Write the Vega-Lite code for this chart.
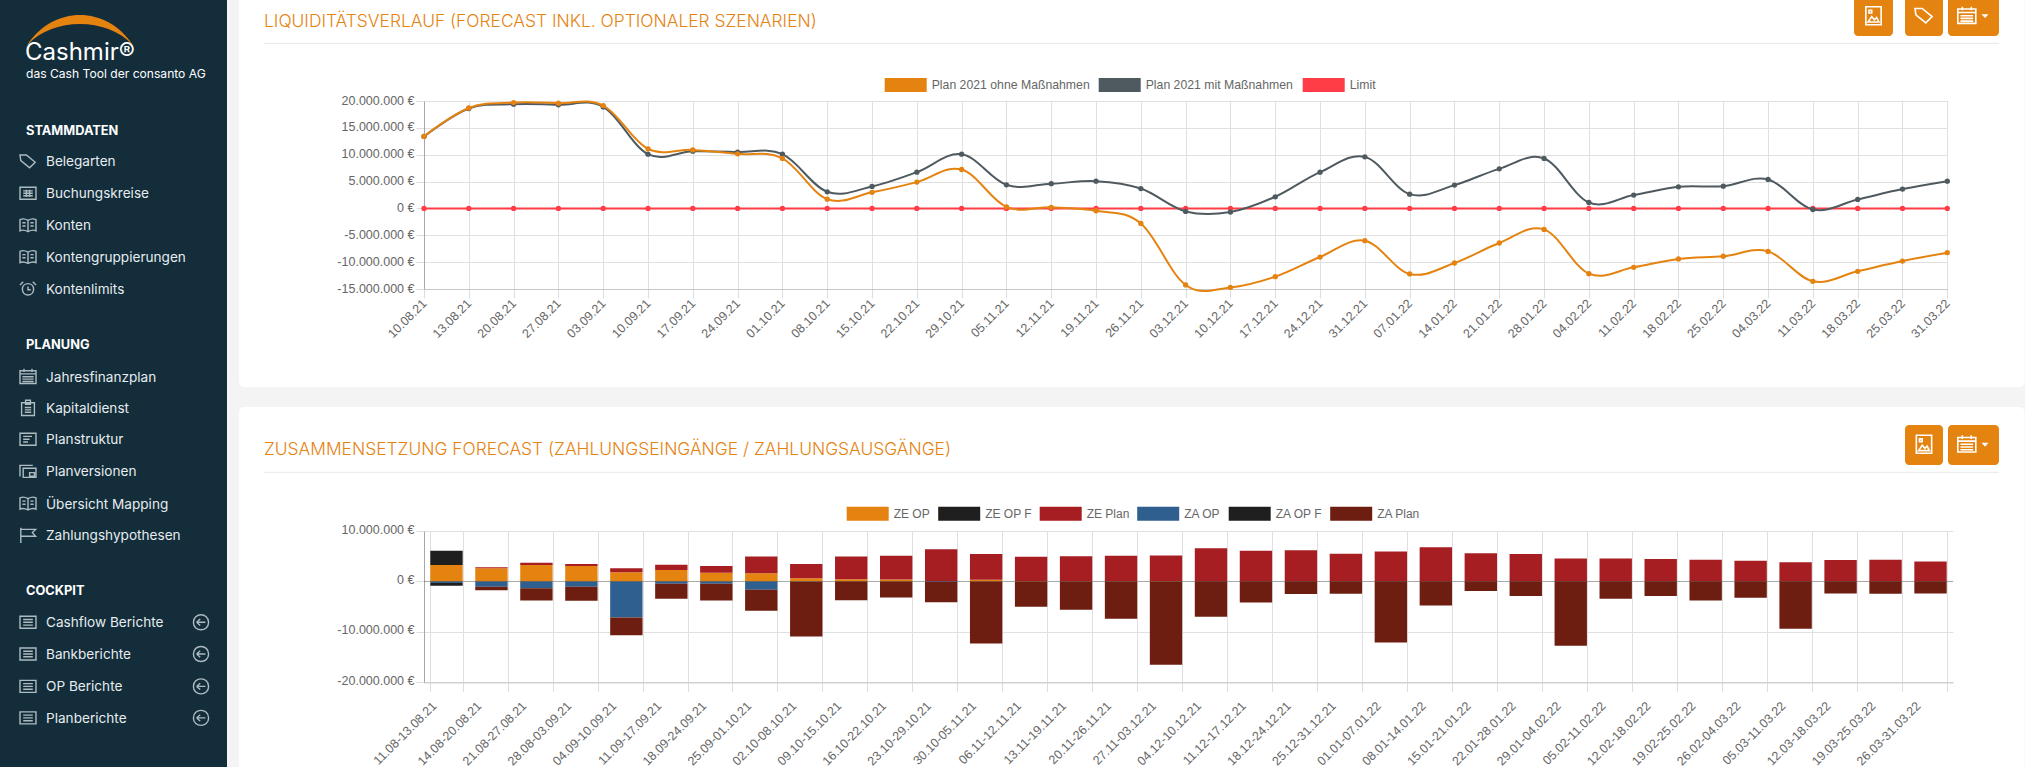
{"$schema":"https://vega.github.io/schema/vega-lite/v6.json","padding":{"left":-1,"top":-1,"right":0,"bottom":0},"autosize":{"type":"pad"},"background":"#f4f4f4","bounds":"flush","spacing":0,"align":"each","columns":2,
"resolve":{"scale":{"color":"independent","shape":"independent"},"legend":{"color":"independent"}},
"config":{"view":{"stroke":null},"font":"Liberation Sans"},
"datasets":{
"chrome":[
{"art":"seite","x":0,"x2":227,"y":0,"y2":767},
{"art":"karte1","x":239,"x2":2024.5,"y":0,"y2":387},
{"art":"karte2","x":239,"x2":2024.5,"y":407,"y2":767},
{"art":"bogen","x":80,"y":25},
{"art":"logo","x":25,"y":52,"text":"Cashmir®"},
{"art":"sub","x":26,"y":73,"text":"das Cash Tool der consanto AG"},
{"art":"kopf","x":26,"y":129.6,"text":"STAMMDATEN"},
{"art":"item","x":46,"ix":28,"y":161.4,"text":"Belegarten","icon":"tag"},
{"art":"item","x":46,"ix":28,"y":193.3,"text":"Buchungskreise","icon":"grid"},
{"art":"item","x":46,"ix":28,"y":225.2,"text":"Konten","icon":"book"},
{"art":"item","x":46,"ix":28,"y":257,"text":"Kontengruppierungen","icon":"book"},
{"art":"item","x":46,"ix":28,"y":288.9,"text":"Kontenlimits","icon":"alarm"},
{"art":"kopf","x":26,"y":344,"text":"PLANUNG"},
{"art":"item","x":46,"ix":28,"y":376.7,"text":"Jahresfinanzplan","icon":"cal"},
{"art":"item","x":46,"ix":28,"y":408.3,"text":"Kapitaldienst","icon":"clip"},
{"art":"item","x":46,"ix":28,"y":439.2,"text":"Planstruktur","icon":"doc"},
{"art":"item","x":46,"ix":28,"y":471,"text":"Planversionen","icon":"copy"},
{"art":"item","x":46,"ix":28,"y":503.5,"text":"Übersicht Mapping","icon":"book"},
{"art":"item","x":46,"ix":28,"y":535,"text":"Zahlungshypothesen","icon":"flag"},
{"art":"kopf","x":26,"y":590,"text":"COCKPIT"},
{"art":"item","x":46,"ix":28,"y":622.3,"text":"Cashflow Berichte","icon":"list"},
{"art":"item","x":46,"ix":28,"y":654,"text":"Bankberichte","icon":"list"},
{"art":"item","x":46,"ix":28,"y":686.4,"text":"OP Berichte","icon":"list"},
{"art":"item","x":46,"ix":28,"y":717.9,"text":"Planberichte","icon":"list"},
{"art":"pfeil","ix":201,"y":622.3,"icon":"back"},
{"art":"pfeil","ix":201,"y":654,"icon":"back"},
{"art":"pfeil","ix":201,"y":686.4,"icon":"back"},
{"art":"pfeil","ix":201,"y":717.9,"icon":"back"},
{"art":"titel","x":264,"y":21,"text":"LIQUIDITÄTSVERLAUF (FORECAST INKL. OPTIONALER SZENARIEN)"},
{"art":"linie","x":264,"x2":1999,"y":43.3},
{"art":"knopf1","x":1854,"x2":1893,"y":0,"y2":36},
{"art":"knopf1","x":1905,"x2":1943,"y":0,"y2":36},
{"art":"knopf1","x":1948,"x2":1999,"y":0,"y2":36},
{"art":"sym","ix":1873.5,"y":15.7,"icon":"bild"},
{"art":"sym","ix":1924,"y":15.7,"icon":"tag"},
{"art":"sym","ix":1966.8,"y":15.7,"icon":"cal"},
{"art":"caret","x":1985,"y":16},
{"art":"titel","x":264,"y":448.6,"text":"ZUSAMMENSETZUNG FORECAST (ZAHLUNGSEINGÄNGE / ZAHLUNGSAUSGÄNGE)"},
{"art":"linie","x":264,"x2":1999,"y":472.3},
{"art":"knopf2","x":1905,"x2":1943,"y":425,"y2":465},
{"art":"knopf2","x":1948,"x2":1999,"y":425,"y2":465},
{"art":"sym","ix":1924,"y":444.3,"icon":"bild"},
{"art":"sym","ix":1966.8,"y":444.3,"icon":"cal"},
{"art":"caret","x":1985,"y":444.6}
],
"liq":[
{"d":"10.08.21","O":13400000,"G":13400000,"Limit":0},{"d":"13.08.21","O":18700000,"G":18600000,"Limit":0},{"d":"20.08.21","O":19700000,"G":19400000,"Limit":0},{"d":"27.08.21","O":19600000,"G":19300000,"Limit":0},{"d":"03.09.21","O":19150000,"G":18900000,"Limit":0},{"d":"10.09.21","O":11100000,"G":10100000,"Limit":0},{"d":"17.09.21","O":10900000,"G":10650000,"Limit":0},{"d":"24.09.21","O":10160000,"G":10500000,"Limit":0},{"d":"01.10.21","O":9300000,"G":10100000,"Limit":0},{"d":"08.10.21","O":1730000,"G":3100000,"Limit":0},{"d":"15.10.21","O":3000000,"G":4100000,"Limit":0},{"d":"22.10.21","O":4900000,"G":6750000,"Limit":0},{"d":"29.10.21","O":7250000,"G":10100000,"Limit":0},{"d":"05.11.21","O":300000,"G":4400000,"Limit":0},{"d":"12.11.21","O":200000,"G":4600000,"Limit":0},{"d":"19.11.21","O":-430000,"G":5080000,"Limit":0},{"d":"26.11.21","O":-2800000,"G":3700000,"Limit":0},{"d":"03.12.21","O":-14250000,"G":-560000,"Limit":0},{"d":"10.12.21","O":-14700000,"G":-680000,"Limit":0},{"d":"17.12.21","O":-12700000,"G":2170000,"Limit":0},{"d":"24.12.21","O":-9050000,"G":6750000,"Limit":0},{"d":"31.12.21","O":-6000000,"G":9600000,"Limit":0},{"d":"07.01.22","O":-12200000,"G":2660000,"Limit":0},{"d":"14.01.22","O":-10160000,"G":4340000,"Limit":0},{"d":"21.01.22","O":-6440000,"G":7370000,"Limit":0},{"d":"28.01.22","O":-3900000,"G":9300000,"Limit":0},{"d":"04.02.22","O":-12140000,"G":1100000,"Limit":0},{"d":"11.02.22","O":-10970000,"G":2480000,"Limit":0},{"d":"18.02.22","O":-9400000,"G":4030000,"Limit":0},{"d":"25.02.22","O":-8900000,"G":4150000,"Limit":0},{"d":"04.03.22","O":-8000000,"G":5400000,"Limit":0},{"d":"11.03.22","O":-13570000,"G":-200000,"Limit":0},{"d":"18.03.22","O":-11700000,"G":1670000,"Limit":0},{"d":"25.03.22","O":-9800000,"G":3600000,"Limit":0},{"d":"31.03.22","O":-8240000,"G":5080000,"Limit":0}
]
},
"concat":[
{"width":423.3,"height":101,"data":{"name":"chrome"},
"encoding":{"x":{"field":"x","type":"quantitative","scale":{"domain":[0,2033],"range":[0,2033],"nice":false,"zero":false},"axis":null},"y":{"field":"y","type":"quantitative","scale":{"domain":[0,767],"range":[0,767],"nice":false,"zero":false},"axis":null}},
"layer":[
{"transform":[{"filter":"datum.art=='seite'"}],"mark":{"type":"rect","color":"#132d3b"},"encoding":{"x2":{"field":"x2"},"y2":{"field":"y2"}}},
{"transform":[{"filter":"datum.art=='karte1'"}],"mark":{"type":"rect","color":"#ffffff","cornerRadiusBottomLeft":5,"cornerRadiusBottomRight":5},"encoding":{"x2":{"field":"x2"},"y2":{"field":"y2"}}},
{"transform":[{"filter":"datum.art=='karte2'"}],"mark":{"type":"rect","color":"#ffffff","cornerRadiusTopLeft":5,"cornerRadiusTopRight":5},"encoding":{"x2":{"field":"x2"},"y2":{"field":"y2"}}},
{"transform":[{"filter":"datum.art=='linie'"}],"mark":{"type":"rule","color":"#e8e8e8","strokeWidth":1},"encoding":{"x2":{"field":"x2"}}},
{"transform":[{"filter":"datum.art=='knopf1'"}],"mark":{"type":"rect","color":"#e58310","cornerRadiusBottomLeft":4,"cornerRadiusBottomRight":4},"encoding":{"x2":{"field":"x2"},"y2":{"field":"y2"}}},
{"transform":[{"filter":"datum.art=='knopf2'"}],"mark":{"type":"rect","color":"#e58310","cornerRadius":4},"encoding":{"x2":{"field":"x2"},"y2":{"field":"y2"}}},
{"transform":[{"filter":"datum.art=='titel'"}],"mark":{"type":"text","align":"left","baseline":"middle","dy":1,"font":"Inter","fontWeight":300,"fontSize":17.4,"color":"#e58310"},"encoding":{"text":{"field":"text"}}},
{"transform":[{"filter":"datum.art=='bogen'"}],"mark":{"type":"point","filled":true,"opacity":1,"size":11236,"color":"#e58310","shape":"M-1,0.38C-0.5,-0.38 0.5,-0.38 1,0.38C0.5,-0.15 -0.5,-0.15 -1,0.38Z"}},
{"transform":[{"filter":"datum.art=='caret'"}],"mark":{"type":"point","filled":true,"opacity":1,"size":49,"color":"#ffffff","shape":"M-1,-0.5H1L0,0.6Z"}},
{"transform":[{"filter":"datum.art=='logo'"}],"mark":{"type":"text","align":"left","baseline":"middle","dy":1,"font":"Inter","fontSize":24,"color":"#ffffff"},"encoding":{"text":{"field":"text"}}},
{"transform":[{"filter":"datum.art=='sub'"}],"mark":{"type":"text","align":"left","baseline":"middle","dy":1,"font":"Inter","fontSize":12.1,"color":"#ffffff"},"encoding":{"text":{"field":"text"}}},
{"transform":[{"filter":"datum.art=='kopf'"}],"mark":{"type":"text","align":"left","baseline":"middle","dy":1,"font":"Inter","fontWeight":700,"fontSize":12.8,"color":"#ffffff"},"encoding":{"text":{"field":"text"}}},
{"transform":[{"filter":"datum.art=='item'"}],"mark":{"type":"text","align":"left","baseline":"middle","dy":1,"font":"Inter","fontSize":13.6,"color":"#e6ecef"},"encoding":{"text":{"field":"text"}}},
{"transform":[{"filter":"datum.art=='item'||datum.art=='pfeil'"}],"mark":{"type":"point","filled":false,"opacity":1,"size":256,"stroke":"#aebbc1","strokeWidth":1.4},
"encoding":{"x":{"field":"ix","type":"quantitative","scale":{"domain":[0,2033],"range":[0,2033],"nice":false,"zero":false},"axis":null},
"shape":{"field":"icon","type":"nominal","legend":null,"scale":{"domain":["tag","grid","book","alarm","cal","clip","doc","copy","flag","list","back","bild"],"range":[
"M-1,-0.8H-0.2L0.9,0.1L0.2,0.8L-0.9,-0.1Z",
"M-1,-0.75H1V0.75H-1ZM-0.6,-0.3H0.6M-0.6,0H0.6M-0.6,0.3H0.6M-0.2,-0.45V0.45M0.2,-0.45V0.45",
"M0,-0.6C-0.4,-0.85 -0.8,-0.8 -1,-0.7V0.7C-0.8,0.6 -0.4,0.6 0,0.8C0.4,0.6 0.8,0.6 1,0.7V-0.7C0.8,-0.8 0.4,-0.85 0,-0.6V0.8M-0.7,-0.3H-0.3M-0.7,0.1H-0.3M0.3,-0.3H0.7M0.3,0.1H0.7",
"M-0.7,0.05C-0.7,-0.9 0.7,-0.9 0.7,0.05C0.7,1 -0.7,1 -0.7,0.05ZM0,-0.3V0.1H0.35M-1,-0.5L-0.6,-0.9M1,-0.5L0.6,-0.9",
"M-1,-0.75H1V0.85H-1ZM-1,-0.35H1M-0.7,0H0.7M-0.7,0.3H0.7M-0.7,0.6H0.7M-0.5,-1V-0.6M0.5,-1V-0.6",
"M-0.8,-0.7H0.8V0.9H-0.8ZM-0.3,-1H0.3V-0.5H-0.3ZM-0.4,-0.1H0.4M-0.4,0.2H0.4M-0.4,0.5H0.4",
"M-1,-0.75H1V0.75H-1ZM-0.6,-0.35H0.5M-0.6,0H0.2M-0.6,0.35H0",
"M-1,0.7V-0.7H0.6M-0.6,-0.35H1V0.8H-0.6ZM0.2,0.2H0.8V0.65H0.2Z",
"M-0.9,-0.9V1M-0.9,-0.7H0.95L0.55,-0.3L0.95,0.15H-0.9",
"M-1,-0.75H1V0.75H-1ZM-0.6,-0.35H0.6M-0.6,0H0.6M-0.6,0.35H0.6",
"M-0.95,0C-0.95,-1.25 0.95,-1.25 0.95,0C0.95,1.25 -0.95,1.25 -0.95,0ZM-0.55,0H0.55M-0.55,0L-0.1,-0.4M-0.55,0L-0.1,0.4",
"M-0.85,-1H0.85V1H-0.85ZM-0.6,0.7L-0.2,0.1L0.1,0.45L0.35,0.2L0.6,0.7ZM-0.5,-0.6H-0.2V-0.3H-0.5Z"
]}}}},
{"transform":[{"filter":"datum.art=='sym'"}],"mark":{"type":"point","filled":false,"opacity":1,"size":324,"stroke":"#ffffff","strokeWidth":1.6},"encoding":{"x":{"field":"ix","type":"quantitative","scale":{"domain":[0,2033],"range":[0,2033],"nice":false,"zero":false},"axis":null},"shape":{"field":"icon","type":"nominal","legend":null}}}
]},
{"width":1529,"height":101,"data":{"values":[{"a":1}]},"mark":{"type":"rule","opacity":0,"strokeWidth":0},"encoding":{}},
{"width":423.3,"height":188,"data":{"values":[{"a":1}]},"mark":{"type":"rule","opacity":0,"strokeWidth":0},"encoding":{}},
{"width":1523.3,"height":188,"data":{"name":"liq"},
"transform":[{"fold":["O","G","Limit"],"as":["k","Wert"]},{"lookup":"k","from":{"data":{"values":[{"k":"O","Reihe":"Plan 2021 ohne Maßnahmen"},{"k":"G","Reihe":"Plan 2021 mit Maßnahmen"},{"k":"Limit","Reihe":"Limit"}]},"key":"k","fields":["Reihe"]}}],
"encoding":{
"x":{"field":"d","type":"ordinal","sort":null,"scale":{"type":"point","padding":0},"axis":{"title":null,"labelAngle":-45,"labelAlign":"right","labelBaseline":"middle","labelPadding":3,"labelFont":"Liberation Sans","labelFontSize":12.5,"labelColor":"#666666","tickColor":"#dddddd","tickSize":9,"grid":true,"gridColor":"#e0e0e0","domainColor":"#c8c8c8","labelOverlap":false}},
"y":{"field":"Wert","type":"quantitative","scale":{"domain":[-15000000,20000000],"nice":false,"zero":false},"axis":{"title":null,"values":[-15000000,-10000000,-5000000,0,5000000,10000000,15000000,20000000],"labelExpr":"(datum.value<0?'-':'')+replace(format(abs(datum.value),','),/,/g,'.')+' €'","labelFont":"Liberation Sans","labelFontSize":12.5,"labelOffset":-1,"labelColor":"#666666","tickColor":"#dddddd","tickSize":8,"labelPadding":2,"grid":true,"gridColor":"#e0e0e0","domainColor":"#a8a8a8"}},
"color":{"field":"Reihe","type":"nominal","scale":{"domain":["Plan 2021 ohne Maßnahmen","Plan 2021 mit Maßnahmen","Limit"],"range":["#e58310","#4f5a60","#ff3d47"]},"legend":{"orient":"none","legendX":460.7,"legendY":-37,"direction":"horizontal","columns":3,"title":null,"symbolType":"M-1,-0.333H1V0.333H-1Z","symbolSize":1764,"symbolStrokeWidth":0,"symbolOpacity":1,"labelFont":"Liberation Sans","labelFontSize":12.25,"labelColor":"#666666","labelOffset":5,"columnPadding":9}}
},
"layer":[
{"transform":[{"filter":"datum.k=='Limit'"}],"mark":{"type":"point","filled":true,"opacity":1,"size":28}},
{"transform":[{"filter":"datum.k=='Limit'"}],"mark":{"type":"line","strokeWidth":2,"interpolate":"cardinal","tension":-0.05}},
{"transform":[{"filter":"datum.k=='G'"}],"mark":{"type":"line","strokeWidth":2,"interpolate":"cardinal","tension":-0.05}},
{"transform":[{"filter":"datum.k=='G'"}],"mark":{"type":"point","filled":true,"opacity":1,"size":28}},
{"transform":[{"filter":"datum.k=='O'"}],"mark":{"type":"line","strokeWidth":2,"interpolate":"cardinal","tension":-0.05}},
{"transform":[{"filter":"datum.k=='O'"}],"mark":{"type":"point","filled":true,"opacity":1,"size":28}}
]},
{"width":423.3,"height":241.3,"data":{"values":[{"a":1}]},"mark":{"type":"rule","opacity":0,"strokeWidth":0},"encoding":{}},
{"width":1529,"height":241.3,"data":{"values":[{"a":1}]},"mark":{"type":"rule","opacity":0,"strokeWidth":0},"encoding":{}},
{"width":423.3,"height":151.4,"data":{"values":[{"a":1}]},"mark":{"type":"rule","opacity":0,"strokeWidth":0},"encoding":{}},
{"width":1529,"height":151.4,"data":{"values":[
{"t":"11.08-13.08.21","s":"ZE OP","o":1,"w":3240000},{"t":"11.08-13.08.21","s":"ZE OP F","o":2,"w":2840000},{"t":"11.08-13.08.21","s":"ZA OP","o":4,"w":-300000},{"t":"11.08-13.08.21","s":"ZA OP F","o":5,"w":-550000},
{"t":"14.08-20.08.21","s":"ZE OP","o":1,"w":2640000},{"t":"14.08-20.08.21","s":"ZE Plan","o":3,"w":200000},{"t":"14.08-20.08.21","s":"ZA OP","o":4,"w":-1060000},{"t":"14.08-20.08.21","s":"ZA Plan","o":6,"w":-660000},
{"t":"21.08-27.08.21","s":"ZE OP","o":1,"w":3240000},{"t":"21.08-27.08.21","s":"ZE Plan","o":3,"w":460000},{"t":"21.08-27.08.21","s":"ZA OP","o":4,"w":-1320000},{"t":"21.08-27.08.21","s":"ZA Plan","o":6,"w":-2450000},
{"t":"28.08-03.09.21","s":"ZE OP","o":1,"w":3040000},{"t":"28.08-03.09.21","s":"ZE Plan","o":3,"w":400000},{"t":"28.08-03.09.21","s":"ZA OP","o":4,"w":-1060000},{"t":"28.08-03.09.21","s":"ZA Plan","o":6,"w":-2770000},
{"t":"04.09-10.09.21","s":"ZE OP","o":1,"w":1850000},{"t":"04.09-10.09.21","s":"ZE Plan","o":3,"w":790000},{"t":"04.09-10.09.21","s":"ZA OP","o":4,"w":-7140000},{"t":"04.09-10.09.21","s":"ZA Plan","o":6,"w":-3500000},
{"t":"11.09-17.09.21","s":"ZE OP","o":1,"w":2250000},{"t":"11.09-17.09.21","s":"ZE Plan","o":3,"w":1050000},{"t":"11.09-17.09.21","s":"ZA OP","o":4,"w":-460000},{"t":"11.09-17.09.21","s":"ZA Plan","o":6,"w":-2980000},
{"t":"18.09-24.09.21","s":"ZE OP","o":1,"w":1720000},{"t":"18.09-24.09.21","s":"ZE Plan","o":3,"w":1320000},{"t":"18.09-24.09.21","s":"ZA OP","o":4,"w":-460000},{"t":"18.09-24.09.21","s":"ZA Plan","o":6,"w":-3310000},
{"t":"25.09-01.10.21","s":"ZE OP","o":1,"w":1650000},{"t":"25.09-01.10.21","s":"ZE Plan","o":3,"w":3310000},{"t":"25.09-01.10.21","s":"ZA OP","o":4,"w":-1650000},{"t":"25.09-01.10.21","s":"ZA Plan","o":6,"w":-4170000},
{"t":"02.10-08.10.21","s":"ZE OP","o":1,"w":660000},{"t":"02.10-08.10.21","s":"ZE Plan","o":3,"w":2780000},{"t":"02.10-08.10.21","s":"ZA OP","o":4,"w":-50000},{"t":"02.10-08.10.21","s":"ZA Plan","o":6,"w":-10850000},
{"t":"09.10-15.10.21","s":"ZE OP","o":1,"w":460000},{"t":"09.10-15.10.21","s":"ZE Plan","o":3,"w":4500000},{"t":"09.10-15.10.21","s":"ZA Plan","o":6,"w":-3700000},
{"t":"16.10-22.10.21","s":"ZE OP","o":1,"w":400000},{"t":"16.10-22.10.21","s":"ZE Plan","o":3,"w":4690000},{"t":"16.10-22.10.21","s":"ZA Plan","o":6,"w":-3170000},
{"t":"23.10-29.10.21","s":"ZE Plan","o":3,"w":6400000},{"t":"23.10-29.10.21","s":"ZA OP","o":4,"w":-100000},{"t":"23.10-29.10.21","s":"ZA Plan","o":6,"w":-4000000},
{"t":"30.10-05.11.21","s":"ZE OP","o":1,"w":330000},{"t":"30.10-05.11.21","s":"ZE Plan","o":3,"w":5090000},{"t":"30.10-05.11.21","s":"ZA Plan","o":6,"w":-12300000},
{"t":"06.11-12.11.21","s":"ZE OP","o":1,"w":100000},{"t":"06.11-12.11.21","s":"ZE Plan","o":3,"w":4790000},{"t":"06.11-12.11.21","s":"ZA Plan","o":6,"w":-5020000},
{"t":"13.11-19.11.21","s":"ZE OP","o":1,"w":50000},{"t":"13.11-19.11.21","s":"ZE Plan","o":3,"w":4970000},{"t":"13.11-19.11.21","s":"ZA Plan","o":6,"w":-5620000},
{"t":"20.11-26.11.21","s":"ZE OP","o":1,"w":20000},{"t":"20.11-26.11.21","s":"ZE Plan","o":3,"w":5070000},{"t":"20.11-26.11.21","s":"ZA Plan","o":6,"w":-7400000},
{"t":"27.11-03.12.21","s":"ZE OP","o":1,"w":100000},{"t":"27.11-03.12.21","s":"ZE Plan","o":3,"w":5050000},{"t":"27.11-03.12.21","s":"ZA Plan","o":6,"w":-16500000},
{"t":"04.12-10.12.21","s":"ZE Plan","o":3,"w":6600000},{"t":"04.12-10.12.21","s":"ZA Plan","o":6,"w":-7000000},
{"t":"11.12-17.12.21","s":"ZE Plan","o":3,"w":6080000},{"t":"11.12-17.12.21","s":"ZA Plan","o":6,"w":-4160000},
{"t":"18.12-24.12.21","s":"ZE Plan","o":3,"w":6200000},{"t":"18.12-24.12.21","s":"ZA Plan","o":6,"w":-2500000},
{"t":"25.12-31.12.21","s":"ZE Plan","o":3,"w":5480000},{"t":"25.12-31.12.21","s":"ZA Plan","o":6,"w":-2450000},
{"t":"01.01-07.01.22","s":"ZE Plan","o":3,"w":5950000},{"t":"01.01-07.01.22","s":"ZA Plan","o":6,"w":-12100000},
{"t":"08.01-14.01.22","s":"ZE Plan","o":3,"w":6800000},{"t":"08.01-14.01.22","s":"ZA Plan","o":6,"w":-4760000},
{"t":"15.01-21.01.22","s":"ZE Plan","o":3,"w":5600000},{"t":"15.01-21.01.22","s":"ZA Plan","o":6,"w":-1880000},
{"t":"22.01-28.01.22","s":"ZE Plan","o":3,"w":5420000},{"t":"22.01-28.01.22","s":"ZA Plan","o":6,"w":-2900000},
{"t":"29.01-04.02.22","s":"ZE Plan","o":3,"w":4560000},{"t":"29.01-04.02.22","s":"ZA Plan","o":6,"w":-12760000},
{"t":"05.02-11.02.22","s":"ZE Plan","o":3,"w":4560000},{"t":"05.02-11.02.22","s":"ZA Plan","o":6,"w":-3440000},
{"t":"12.02-18.02.22","s":"ZE Plan","o":3,"w":4430000},{"t":"12.02-18.02.22","s":"ZA Plan","o":6,"w":-2900000},
{"t":"19.02-25.02.22","s":"ZE Plan","o":3,"w":4300000},{"t":"19.02-25.02.22","s":"ZA Plan","o":6,"w":-3770000},
{"t":"26.02-04.03.22","s":"ZE Plan","o":3,"w":4100000},{"t":"26.02-04.03.22","s":"ZA Plan","o":6,"w":-3240000},
{"t":"05.03-11.03.22","s":"ZE Plan","o":3,"w":3830000},{"t":"05.03-11.03.22","s":"ZA Plan","o":6,"w":-9390000},
{"t":"12.03-18.03.22","s":"ZE Plan","o":3,"w":4230000},{"t":"12.03-18.03.22","s":"ZA Plan","o":6,"w":-2380000},
{"t":"19.03-25.03.22","s":"ZE Plan","o":3,"w":4300000},{"t":"19.03-25.03.22","s":"ZA Plan","o":6,"w":-2450000},
{"t":"26.03-31.03.22","s":"ZE Plan","o":3,"w":3970000},{"t":"26.03-31.03.22","s":"ZA Plan","o":6,"w":-2380000}
]},
"layer":[
{"mark":{"type":"bar"},"encoding":{
"x":{"field":"t","type":"ordinal","sort":null,"scale":{"type":"band","paddingInner":0.28,"paddingOuter":0.14},"axis":{"title":null,"tickBand":"extent","labelAngle":-45,"labelAlign":"right","labelBaseline":"middle","labelPadding":12,"labelOffset":-12.5,"labelFont":"Liberation Sans","labelFontSize":12.5,"labelColor":"#666666","tickColor":"#dddddd","tickSize":9,"grid":true,"gridColor":"#e0e0e0","domainColor":"#c8c8c8","labelOverlap":false}},
"y":{"field":"w","type":"quantitative","stack":"zero","scale":{"domain":[-20000000,10000000],"nice":false,"zero":false},"axis":{"title":null,"values":[-20000000,-15000000,-10000000,-5000000,0,5000000,10000000],"labelExpr":"(datum.value<0?'-':'')+replace(format(abs(datum.value),','),/,/g,'.')+' €'","labelFont":"Liberation Sans","labelFontSize":12.5,"labelOffset":-2,"labelColor":"#666666","tickColor":"#dddddd","tickSize":8,"labelPadding":2,"grid":true,"gridColor":"#e0e0e0","domainColor":"#a8a8a8"}},
"order":{"field":"o","type":"quantitative"},
"color":{"field":"s","type":"nominal","scale":{"domain":["ZE OP","ZE OP F","ZE Plan","ZA OP","ZA OP F","ZA Plan"],"range":["#e58310","#1f1f1f","#a61e22","#2e5f8f","#1f1f1f","#6e1e10"]},"legend":{"orient":"none","legendX":422.7,"legendY":-38.3,"direction":"horizontal","columns":6,"title":null,"symbolType":"M-1,-0.333H1V0.333H-1Z","symbolSize":1764,"symbolStrokeWidth":0,"labelFont":"Liberation Sans","labelFontSize":12,"labelColor":"#666666","labelOffset":5,"columnPadding":7.5}}
}},
{"data":{"values":[{"w":0}]},"mark":{"type":"rule","color":"#000000","opacity":0.25,"strokeWidth":1},"encoding":{"y":{"field":"w","type":"quantitative"}}}
]}
]}
